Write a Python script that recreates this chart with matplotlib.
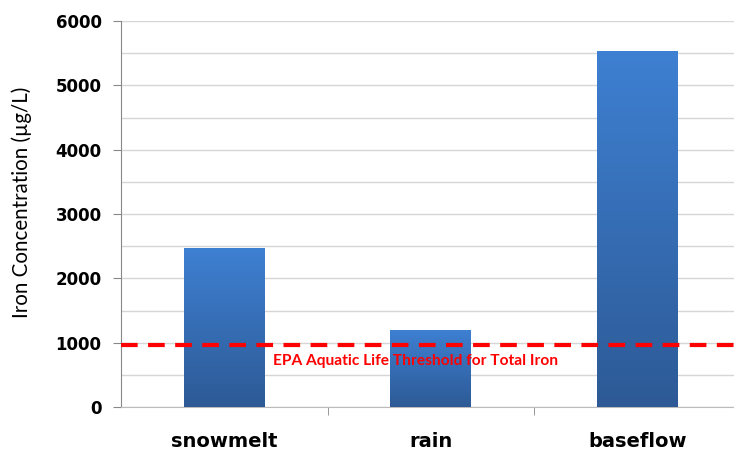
import numpy as np
import matplotlib.pyplot as plt
from matplotlib.colors import LinearSegmentedColormap

# dados
categorias = ['snowmelt', 'rain', 'baseflow']
ferro = [2470, 1200, 5540]
limite_epa = 970
rotulo_limite = 'EPA Aquatic Life Threshold for Total Iron'

fig = plt.figure(figsize=(7.34, 4.5), dpi=100)
ax = fig.add_axes([121 / 734, 1 - 407 / 450, 1 - 121 / 734, (407 - 21) / 450])

x = np.arange(len(categorias))
largura = 0.39

# barras com gradiente vertical
cmap = LinearSegmentedColormap.from_list('azul', ['#2D5A96', '#3E80D2'])
grad = np.linspace(0, 1, 256).reshape(-1, 1)
barras = ax.bar(x, ferro, width=largura, color='none', zorder=3)
for b in barras:
    x0, y0 = b.get_x(), b.get_y()
    w, h = b.get_width(), b.get_height()
    im = ax.imshow(grad, cmap=cmap, origin='lower', aspect='auto',
                   extent=[x0, x0 + w, y0, y0 + h], zorder=3)
    im.set_clip_path(b)

ax.axhline(limite_epa, color='#FF0000', lw=3, ls=(0, (4, 2.5)), zorder=4)
ax.text(0.925, 710, rotulo_limite, color='#FF0000', fontsize=11.2,
        family='Lato', fontweight='bold', ha='center', va='center', zorder=5)

ax.set_ylim(0, 6000)
ax.set_xlim(-0.5, 2.5 - 6.5 / 206.5)
ax.set_yticks(np.arange(0, 6001, 1000))
ax.set_yticks(np.arange(500, 6000, 1000), minor=True)
ax.tick_params(axis='y', which='major', labelsize=12, length=6, color='#888888', pad=8)
ax.tick_params(axis='y', which='minor', length=0)
for t in ax.get_yticklabels():
    t.set_fontweight('bold')
ax.grid(axis='y', which='both', color='#D6D6D6', lw=1, zorder=0)

ax.set_xticks(x)
ax.set_xticklabels(categorias, fontsize=14, fontweight='bold')
ax.tick_params(axis='x', which='major', length=0, pad=18)
ax.set_xticks([0.5, 1.5], minor=True)
ax.tick_params(axis='x', which='minor', length=6, color='#888888')

ax.set_ylabel('Iron Concentration (µg/L)', fontsize=14.8, family='Lato', va='center')
ax.yaxis.set_label_coords(-0.1615, 0.53)

for lado in ['top', 'right']:
    ax.spines[lado].set_visible(False)
ax.spines['left'].set_color('#888888')
ax.spines['bottom'].set_color('#BBBBBB')

fig.savefig('out.png', dpi=100)
